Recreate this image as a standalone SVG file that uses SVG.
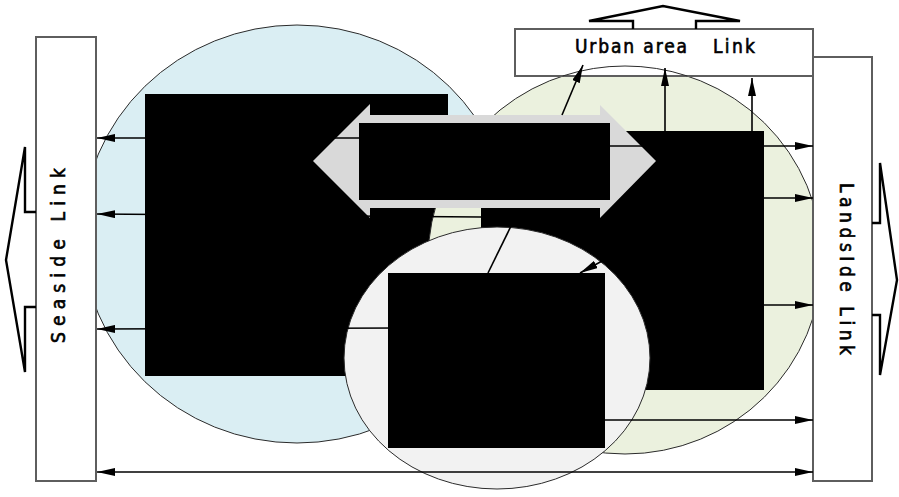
<svg xmlns="http://www.w3.org/2000/svg" width="899" height="497" viewBox="0 0 899 497">
  <style>
    .zone { stroke: #2b2b2b; stroke-width: 1; }
    .block { fill: #000000; }
    .panel { fill: #ffffff; stroke: #5e5e5e; stroke-width: 2; }
    .flow { fill: none; stroke: #000000; stroke-width: 2.4; stroke-linejoin: miter; }
    .label { font-family: "DejaVu Sans Condensed", "DejaVu Sans", sans-serif; font-size: 19px; fill: #000000; stroke: #000000; stroke-width: 0.6; }
    .conn { stroke: #000000; stroke-width: 1.6; fill: none; }
    .arr { marker-end: url(#head); }
    .both { marker-start: url(#head); marker-end: url(#head); }
  </style>
  <defs>
    <marker id="head" viewBox="0 0 18 8" refX="18" refY="4" markerWidth="18" markerHeight="8" markerUnits="userSpaceOnUse" orient="auto-start-reverse">
      <path d="M0,0 L18,4 L0,8 z" fill="#000000"/>
    </marker>
  </defs>

  <rect x="0" y="0" width="899" height="497" fill="#ffffff"/>

  <!-- zones and their blocks -->
  <g id="zone-sea">
    <ellipse class="zone" cx="297" cy="234" rx="215" ry="209" fill="#daeef3"/>
    <rect class="block" x="145" y="94" width="303" height="282"/>
  </g>
  <g id="zone-land">
    <ellipse class="zone" cx="625" cy="260" rx="197" ry="194" fill="#ebf1de"/>
    <rect class="block" x="481" y="131" width="283" height="259"/>
  </g>
  <g id="zone-core">
    <ellipse class="zone" cx="497" cy="358" rx="153" ry="131" fill="#f2f2f2"/>
    <rect class="block" x="388" y="273" width="217" height="175"/>
  </g>

  <!-- link panels -->
  <g id="seaside-link">
    <rect class="panel" x="36" y="37" width="60" height="444"/>
    <polyline class="flow" points="36,212 25,212 25,147 6,260 25,372 25,307 36,307"/>
    <text class="label" transform="translate(65,255.5) rotate(-90)" text-anchor="middle" textLength="175" lengthAdjust="spacing">Seaside Link</text>
  </g>
  <g id="landside-link">
    <rect class="panel" x="813" y="57" width="59" height="424"/>
    <polyline class="flow" points="872,223 880,223 880,163 897,280 880,375 880,315 872,315"/>
    <text class="label" transform="translate(840,269) rotate(90)" text-anchor="middle" textLength="172" lengthAdjust="spacing">LandsIde Link</text>
  </g>
  <g id="urban-link">
    <rect class="panel" x="515" y="29" width="298" height="47"/>
    <polyline class="flow" points="633,29 633,21 589,21 663,6 740,21 696,21 696,29"/>
    <text class="label" y="53"><tspan x="575" textLength="112" lengthAdjust="spacing">Urban area</tspan><tspan x="713" textLength="42" lengthAdjust="spacing">Link</tspan></text>
    <!-- outline of the land zone where it runs over the panel -->
    <path d="M562.6,76 A197,194 0 0 1 687.4,76" fill="none" stroke="#2b2b2b" stroke-width="1"/>
  </g>

  <!-- central exchange arrow -->
  <g id="exchange">
    <path d="M313,161 L370,104 L370,115 L600,115 L600,105 L656,161 L600,218 L600,208 L370,208 L370,218 Z" fill="#d9d9d9"/>
  </g>

  <!-- connectors -->
  <g id="connectors">
    <line class="conn arr" x1="380" y1="138" x2="97" y2="138"/>
    <line class="conn arr" x1="481" y1="217" x2="97" y2="214"/>
    <line class="conn arr" x1="400" y1="328" x2="97" y2="329"/>
    <line class="conn both" x1="97" y1="472" x2="813" y2="472"/>

    <line class="conn arr" x1="590" y1="146" x2="813" y2="146"/>
    <line class="conn arr" x1="764" y1="198" x2="813" y2="198"/>
    <line class="conn arr" x1="764" y1="305" x2="813" y2="305"/>
    <line class="conn arr" x1="604" y1="420" x2="813" y2="420"/>

    <line class="conn arr" x1="562" y1="115" x2="583" y2="65"/>
    <line class="conn arr" x1="665" y1="131" x2="665" y2="68"/>
    <line class="conn arr" x1="752" y1="131" x2="752" y2="78"/>

    <line class="conn" x1="512" y1="224" x2="488" y2="273"/>
    <line class="conn arr" x1="615" y1="254" x2="580" y2="273"/>
  </g>

  <g id="exchange-block">
    <rect class="block" x="359" y="123" width="251" height="77"/>
  </g>
</svg>
